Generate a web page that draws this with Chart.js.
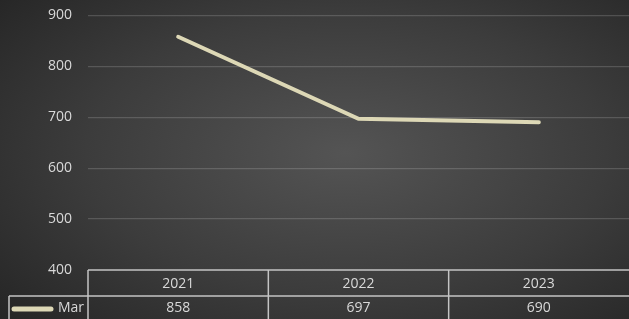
<!DOCTYPE html>
<html>
<head>
<meta charset="utf-8">
<script src="https://cdn.jsdelivr.net/npm/chart.js@4"></script>
<style>
  html, body { margin: 0; padding: 0; }
  #wrap {
    width: 629px; height: 319px; position: relative; overflow: hidden;
    background: radial-gradient(ellipse 75% 80% at 55% 48%, #545454 0%, #3c3c3c 55%, #242424 100%);
  }
  #chart { position: absolute; left: 0; top: -9px; }
</style>
</head>
<body>
<div id="wrap"><canvas id="chart" width="629" height="328"></canvas></div>
<script>
const years = ['2021', '2022', '2023'];
const marValues = [858, 697, 690];
const seriesName = 'Mar';
const yTicks = [400, 500, 600, 700, 800, 900];

const TEXT = '#d9d9d9';
const BORDER = '#c4c4c4';
const LINE = '#ddd8b6';
const FONT = '"Open Sans", sans-serif';

// data table under the plot, aligned to the category scale
const dataTable = {
  id: 'dataTable',
  afterDraw(chart) {
    const { ctx, chartArea, scales } = chart;
    const x = scales.x;
    const top = chartArea.bottom;
    const mid = top + 26;
    const bottom = chart.height + 2;
    const half = (x.getPixelForValue(1) - x.getPixelForValue(0)) / 2;
    ctx.save();
    ctx.strokeStyle = BORDER;
    ctx.lineWidth = 1.5;
    ctx.beginPath();
    ctx.moveTo(chartArea.left, top); ctx.lineTo(chartArea.right, top);
    ctx.moveTo(9, mid); ctx.lineTo(chartArea.right, mid);
    ctx.moveTo(9, mid); ctx.lineTo(9, bottom);
    years.forEach((y, i) => {
      const xl = x.getPixelForValue(i) - half;
      ctx.moveTo(xl, top); ctx.lineTo(xl, bottom);
    });
    ctx.stroke();

    ctx.fillStyle = TEXT;
    ctx.font = '14px ' + FONT;
    ctx.textAlign = 'center';
    ctx.textBaseline = 'middle';
    years.forEach((y, i) => {
      const cx = x.getPixelForValue(i);
      ctx.fillText(y, cx, top + 14);
      ctx.fillText(String(marValues[i]), cx, mid + 12);
    });

    // legend key
    ctx.strokeStyle = LINE;
    ctx.lineWidth = 5;
    ctx.lineCap = 'round';
    ctx.beginPath();
    ctx.moveTo(14, mid + 13); ctx.lineTo(51, mid + 13);
    ctx.stroke();
    ctx.textAlign = 'right';
    ctx.fillText(seriesName, 84, mid + 12);
    ctx.restore();
  }
};

new Chart(document.getElementById('chart'), {
  type: 'line',
  data: {
    labels: years,
    datasets: [{
      label: seriesName,
      data: marValues,
      borderColor: LINE,
      borderWidth: 4,
      borderCapStyle: 'round',
      borderJoinStyle: 'miter',
      pointRadius: 0,
      tension: 0
    }]
  },
  options: {
    responsive: false,
    animation: false,
    layout: { padding: { top: 0, right: 0, bottom: 49, left: 0 } },
    plugins: { legend: { display: false }, tooltip: { enabled: false } },
    scales: {
      x: { display: false, offset: true },
      y: {
        min: 400, max: 900,
        afterFit(scale) { scale.width = 88; },
        afterBuildTicks(scale) { scale.ticks = yTicks.map(v => ({ value: v })); },
        border: { display: false },
        grid: {
          color: ctx => ctx.tick.value === 400 ? 'rgba(0,0,0,0)' : 'rgba(255,255,255,0.16)',
          lineWidth: 1.2,
          drawTicks: false
        },
        ticks: { color: TEXT, padding: 16, font: { family: FONT, size: 14 } }
      }
    }
  },
  plugins: [dataTable]
});
</script>
</body>
</html>
